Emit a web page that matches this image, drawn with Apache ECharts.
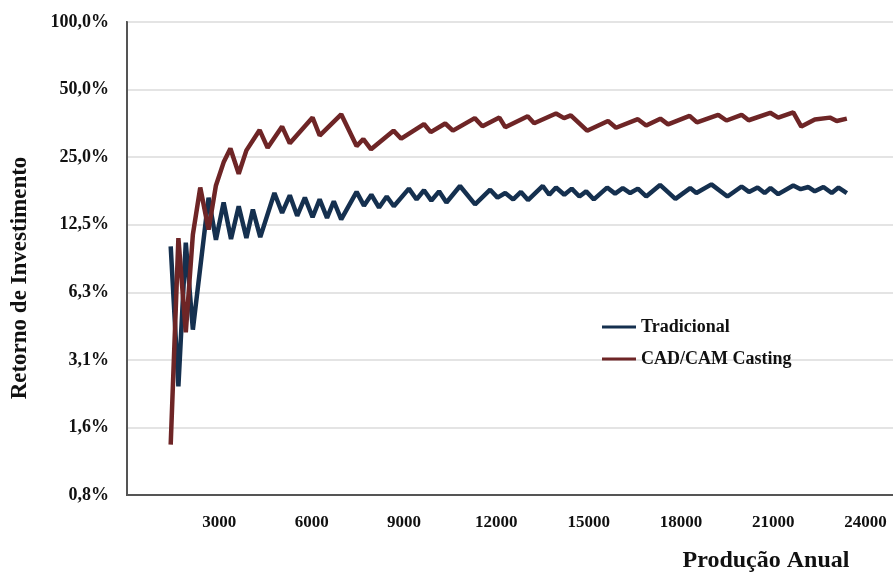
<!DOCTYPE html>
<html>
<head>
<meta charset="utf-8">
<script src="https://cdn.jsdelivr.net/npm/echarts@6/dist/echarts.min.js"></script>
<style>
    html, body { margin: 0; padding: 0; background: #fff; }
    #roiChart { width: 893px; height: 572px; }
</style>
</head>
<body>
<div id="roiChart"></div>
<script>
    // produção anual (x) e retorno (%)
    const tradX = [1420, 1670, 1910, 2140, 2650, 2890, 3140, 3380, 3630, 3880,
        4090, 4330, 4790, 5040, 5290, 5530, 5780, 6030, 6260, 6500,
        6720, 6960, 7460, 7700, 7940, 8190, 8440, 8670, 9160, 9410,
        9650, 9890, 10140, 10380, 10820, 11310, 11800, 12040, 12290, 12550,
        12800, 13030, 13510, 13720, 13940, 14210, 14450, 14700, 14920, 15170,
        15600, 15860, 16110, 16350, 16600, 16870, 17320, 17820, 18300, 18500,
        18990, 19510, 19970, 20210, 20490, 20720, 20910, 21160, 21650, 21890,
        22140, 22350, 22630, 22900, 23120, 23390];
    const tradY = [10.0, 2.38, 10.4, 4.26, 16.5, 10.7, 15.7, 10.8, 15.1, 10.9,
        14.6, 11.0, 17.3, 14.1, 16.9, 13.7, 16.5, 13.5, 16.2, 13.4,
        15.9, 13.2, 17.5, 15.2, 17.0, 14.9, 16.7, 15.1, 18.1, 16.2,
        17.8, 16.0, 17.6, 15.7, 18.6, 15.4, 17.9, 16.5, 17.3, 16.2,
        17.5, 16.1, 18.6, 17.0, 18.3, 17.0, 18.1, 16.7, 17.6, 16.2,
        18.3, 17.2, 18.2, 17.3, 18.1, 16.7, 18.8, 16.3, 18.2, 17.3,
        18.9, 16.7, 18.5, 17.5, 18.3, 17.3, 18.2, 17.1, 18.7, 18.0,
        18.4, 17.6, 18.4, 17.3, 18.3, 17.3];

    const cadX = [1420, 1670, 1910, 2140, 2380, 2650, 2890, 3140, 3360, 3630,
        3880, 4310, 4570, 5040, 5290, 6030, 6260, 6960, 7460, 7680,
        7930, 8660, 8910, 9650, 9870, 10340, 10590, 11300, 11550, 12100,
        12290, 13020, 13230, 13940, 14200, 14420, 14950, 15630, 15890, 16600,
        16870, 17330, 17580, 18280, 18520, 19210, 19480, 19970, 20200, 20900,
        21160, 21650, 21910, 22350, 22840, 23060, 23390];
    const cadY = [1.31, 10.9, 4.14, 11.3, 18.3, 11.9, 18.7, 23.7, 27.3, 21.1,
        26.8, 33.0, 27.5, 34.2, 28.8, 37.5, 31.2, 38.8, 28.0, 30.1,
        27.1, 32.8, 30.2, 35.1, 32.3, 35.3, 32.8, 37.3, 34.3, 37.5,
        34.0, 38.0, 35.4, 39.1, 37.3, 38.4, 32.8, 36.2, 33.8, 36.9,
        34.6, 37.1, 35.0, 38.2, 35.7, 38.6, 36.4, 38.6, 36.5, 39.4,
        37.5, 39.6, 34.2, 36.8, 37.5, 36.2, 37.1];

    const seriesNames = ['Tradicional', 'CAD/CAM Casting'];
    const xTicks = [3000, 6000, 9000, 12000, 15000, 18000, 21000, 24000];

    const serif = '"Liberation Serif", "DejaVu Serif", serif';

    function pairs(xs, ys) {
        return xs.map((x, i) => [x, ys[i] / 100]);
    }

    let myChart = echarts.init(document.getElementById('roiChart'));

    let option = {
        animation: false,
        grid: {
            left: 127,
            top: 22,
            right: -8,
            bottom: 77,
            outerBoundsMode: 'none',
            show: true,
            borderColor: '#555',
            borderWidth: 2
        },
        color: ['#15304f', '#6e2526'],
        legend: {
            data: seriesNames,
            orient: 'vertical',
            left: 597,
            top: 313,
            icon: 'rect',
            itemWidth: 34,
            itemHeight: 3,
            itemGap: 14,
            textStyle: {
                fontFamily: serif,
                fontWeight: 'bold',
                fontSize: 18,
                color: '#111'
            }
        },
        xAxis: {
            type: 'value',
            min: 0,
            max: 25150,
            interval: 3000,
            axisTick: { show: false },
            axisLine: { show: true, lineStyle: { color: '#555', width: 2 } },
            splitLine: { show: false },
            axisLabel: {
                margin: 19,
                fontFamily: serif,
                fontWeight: 'bold',
                fontSize: 17,
                color: '#111',
                formatter: function (v) {
                    return xTicks.indexOf(v) >= 0 ? String(v) : '';
                }
            }
        },
        yAxis: {
            type: 'log',
            logBase: 2,
            min: 0.0078125,
            max: 1,
            splitNumber: 7,
            axisTick: { show: false },
            axisLine: { show: true, lineStyle: { color: '#555', width: 2 } },
            splitLine: { lineStyle: { color: '#e4e4e4', width: 2 } },
            axisLabel: {
                margin: 18,
                fontFamily: serif,
                fontWeight: 'bold',
                fontSize: 18,
                color: '#111',
                formatter: function (v) {
                    let p = Math.round(v * 100000) / 1000;
                    return p.toFixed(1).replace('.', ',') + '%';
                }
            }
        },
        graphic: [
            {
                type: 'text',
                x: 20,
                y: 278,
                rotation: Math.PI / 2,
                style: {
                    text: 'Retorno de Investimento',
                    font: 'bold 23px ' + serif,
                    fill: '#111',
                    align: 'center',
                    verticalAlign: 'middle'
                }
            },
            {
                type: 'text',
                x: 766,
                y: 561,
                style: {
                    text: 'Produção Anual',
                    font: 'bold 24px ' + serif,
                    fill: '#111',
                    align: 'center',
                    verticalAlign: 'middle'
                }
            }
        ],
        series: [
            {
                name: seriesNames[0],
                type: 'line',
                data: pairs(tradX, tradY),
                showSymbol: false,
                lineStyle: { width: 4.5 }
            },
            {
                name: seriesNames[1],
                type: 'line',
                data: pairs(cadX, cadY),
                showSymbol: false,
                lineStyle: { width: 4.5 }
            }
        ]
    };

    myChart.setOption(option);
</script>
</body>
</html>
